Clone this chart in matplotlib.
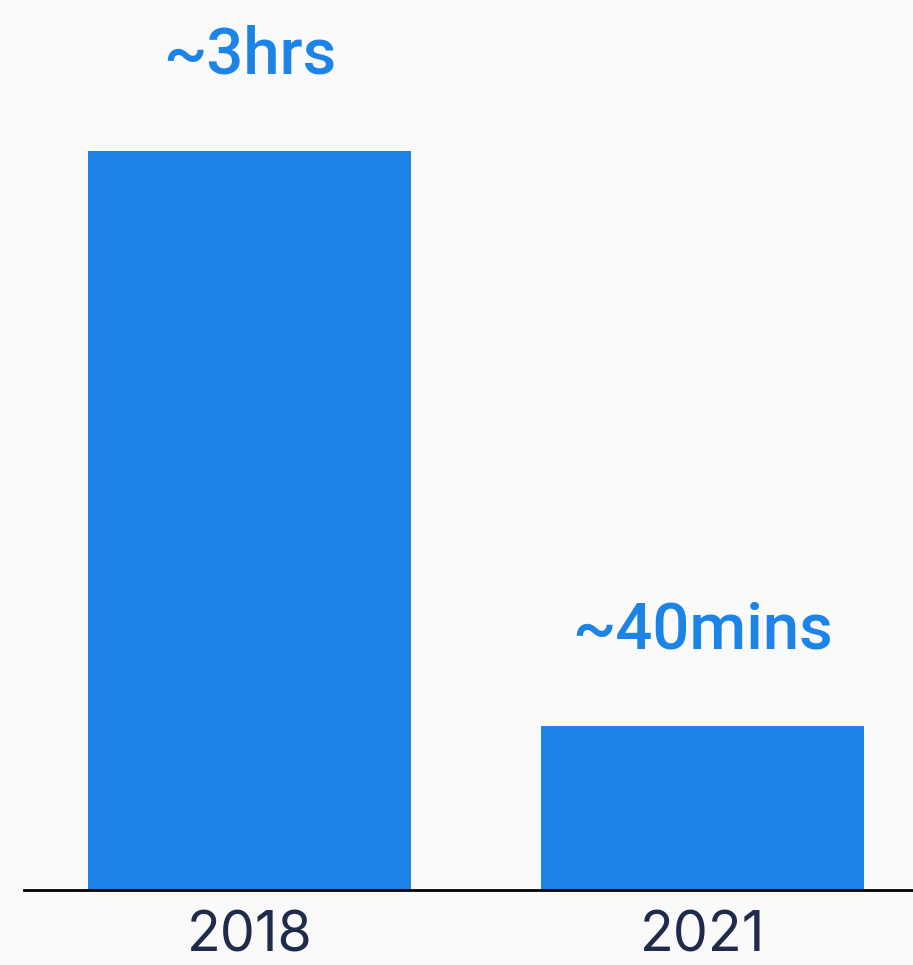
import matplotlib
matplotlib.use("Agg")
import matplotlib.pyplot as plt

years = ["2018", "2021"]
minutes = [180, 40]
labels = ["~3hrs", "~40mins"]

BG = "#fafafa"
BLUE = "#1c84e6"
NAVY = "#1f2b4b"


def main() -> None:
    plt.rcParams["font.family"] = ["Inter", "DejaVu Sans"]

    fig = plt.figure(figsize=(9.13, 9.65), dpi=100, facecolor=BG)
    ax = fig.add_axes([24 / 913, 75 / 965, 889 / 913, 890 / 965], facecolor=BG)

    x = range(len(years))
    bars = ax.bar(x, minutes, width=0.713, color=BLUE, zorder=2)

    for bar, text in zip(bars, labels):
        ax.annotate(text, (bar.get_x() + bar.get_width() / 2, bar.get_height()),
                    xytext=(0, 56), textcoords="offset points",
                    ha="center", va="baseline", fontsize=47,
                    family=["Roboto", "DejaVu Sans"],
                    fontweight="medium", color=BLUE)

    ax.set_xlim(-0.498, 1.465)
    ax.set_ylim(0, 216.8)
    ax.set_xticks(list(x))
    ax.set_xticklabels(years, fontsize=40, color=NAVY)
    ax.tick_params(axis="x", length=0, pad=15)
    ax.set_yticks([])
    for side in ("left", "right", "top"):
        ax.spines[side].set_visible(False)
    ax.spines["bottom"].set_linewidth(2)
    ax.spines["bottom"].set_color("black")

    fig.savefig("out.png", dpi=100, facecolor=BG)


if __name__ == "__main__":
    main()
